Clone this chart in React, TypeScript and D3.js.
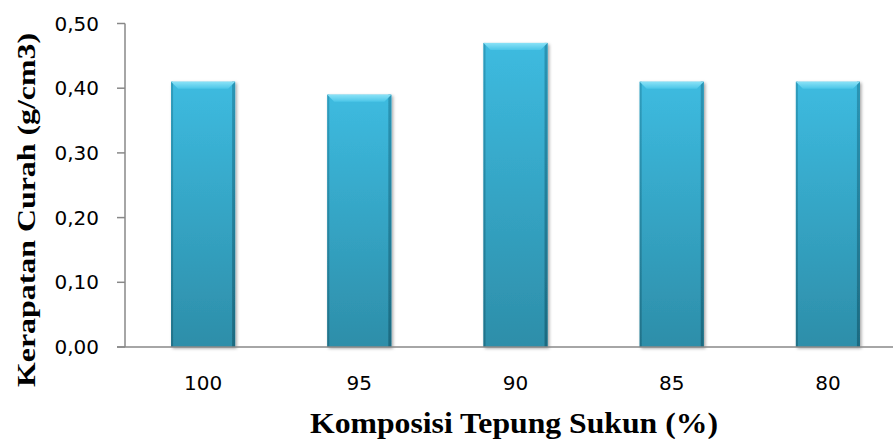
import * as d3 from "d3";

const categories = ["100", "95", "90", "85", "80"];
const values = [0.41, 0.39, 0.47, 0.41, 0.41];
const yTicks = [0, 0.1, 0.2, 0.3, 0.4, 0.5];

const xTitle = "Komposisi Tepung Sukun (%)";
const yTitle = "Kerapatan Curah (g/cm3)";

export default function App() {
  const width = 893;
  const height = 439;

  // plot area runs past the right edge (the original is cropped)
  const x = d3
    .scaleBand()
    .domain(categories)
    .range([125, 906])
    .paddingInner(0.59)
    .paddingOuter(0.295);

  const y = d3.scaleLinear().domain([0, 0.5]).range([347, 23.5]);

  const fmt = (v) => d3.format(".2f")(v).replace(".", ",");
  const b = 7; // bevel depth

  return (
    <svg
      width={width}
      height={height}
      style={{ position: "absolute", left: 0, top: 0, background: "#fff" }}
    >
      <defs>
        <linearGradient id="body" x1="0" y1="0" x2="0" y2="1">
          <stop offset="0" stopColor="#3dbbe0" />
          <stop offset="1" stopColor="#2d8ea9" />
        </linearGradient>
        <linearGradient id="bevelTop" x1="0" y1="0" x2="0" y2="1">
          <stop offset="0" stopColor="#8ae2f7" />
          <stop offset="1" stopColor="#4cc6e8" />
        </linearGradient>
        <linearGradient id="side" x1="0" y1="0" x2="0" y2="1">
          <stop offset="0" stopColor="#2a95b5" />
          <stop offset="1" stopColor="#1d6a80" />
        </linearGradient>
        <filter id="shadow" x="-20%" y="-10%" width="140%" height="130%">
          <feDropShadow dx="1.5" dy="1.5" stdDeviation="1.5" floodColor="#000" floodOpacity="0.35" />
        </filter>
      </defs>

      {/* y axis */}
      <line x1={125} x2={125} y1={y(0.5)} y2={y(0)} stroke="#888" strokeWidth={1.5} />
      {yTicks.map((t) => (
        <g key={t}>
          <line x1={117} x2={125} y1={y(t)} y2={y(t)} stroke="#888" strokeWidth={1.5} />
          <text
            x={99}
            y={y(t)}
            textAnchor="end"
            dominantBaseline="central"
            fontFamily="DejaVu Sans"
            fontSize={20}
            fill="#000"
          >
            {fmt(t)}
          </text>
        </g>
      ))}

      {/* bars */}
      {categories.map((c, i) => {
        const x0 = x(c);
        const x1 = x0 + x.bandwidth();
        const y0 = y(values[i]);
        const y1 = y(0);
        return (
          <g key={c} filter="url(#shadow)">
            <rect x={x0} y={y0} width={x1 - x0} height={y1 - y0} fill="url(#body)" />
            <rect x={x0} y={y0} width={2} height={y1 - y0} fill="url(#side)" opacity={0.8} />
            <rect x={x1 - 3} y={y0} width={3} height={y1 - y0} fill="url(#side)" />
            <polygon
              points={`${x0},${y0} ${x1},${y0} ${x1 - b},${y0 + b} ${x0 + b},${y0 + b}`}
              fill="url(#bevelTop)"
            />
          </g>
        );
      })}

      {/* x axis */}
      <line x1={117} x2={width} y1={y(0)} y2={y(0)} stroke="#888" strokeWidth={1.5} />
      {categories.map((c) => (
        <text
          key={c}
          x={x(c) + x.bandwidth() / 2}
          y={390}
          textAnchor="middle"
          fontFamily="DejaVu Sans"
          fontSize={20}
          fill="#000"
        >
          {c}
        </text>
      ))}

      {/* titles */}
      <text
        x={514}
        y={433}
        textAnchor="middle"
        fontFamily="Liberation Serif"
        fontWeight="bold"
        fontSize={29}
        textLength={408}
        lengthAdjust="spacingAndGlyphs"
        fill="#000"
      >
        {xTitle}
      </text>
      <text
        transform="translate(35,210) rotate(-90)"
        textAnchor="middle"
        fontFamily="Liberation Serif"
        fontWeight="bold"
        fontSize={26}
        textLength={354}
        lengthAdjust="spacingAndGlyphs"
        fill="#000"
      >
        {yTitle}
      </text>
    </svg>
  );
}
